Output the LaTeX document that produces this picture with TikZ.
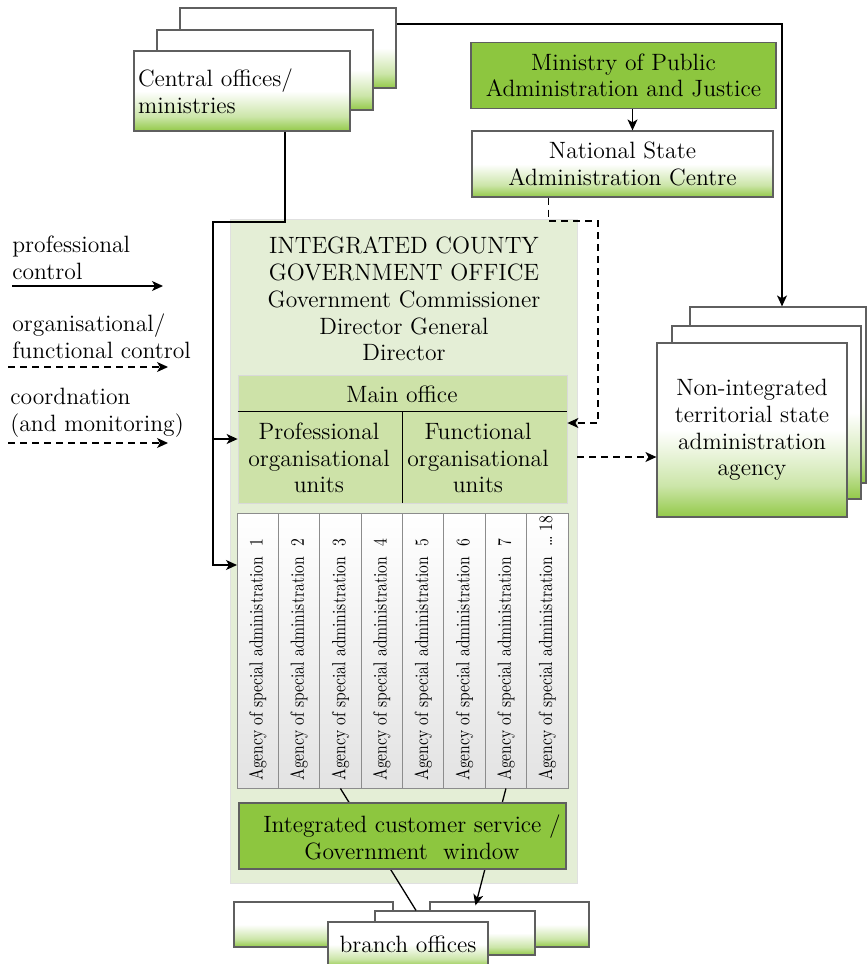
\documentclass[tikz,border=0pt]{standalone}
\usepackage{fontspec}
\usepackage{graphicx}
\usetikzlibrary{arrows.meta}

\definecolor{grn}{RGB}{141,198,63}
\definecolor{palegrn}{RGB}{228,238,214}
\definecolor{midgrn}{RGB}{205,226,168}
\definecolor{edge}{RGB}{95,95,95}
\colorlet{grnA}{grn!95}
\colorlet{grnB}{grn!45}
\colorlet{agrey}{black!11}
\pgfdeclareverticalshading{wgshade}{100bp}{color(0bp)=(grnA); color(25bp)=(grnA); color(34bp)=(grnB); color(50bp)=(white); color(100bp)=(white)}
\pgfdeclareverticalshading{agshade}{100bp}{color(0bp)=(agrey); color(25bp)=(agrey); color(75bp)=(white); color(100bp)=(white)}

\newcommand{\txtsize}{\fontsize{11.8}{13.4}\selectfont}

\begin{document}
\begin{tikzpicture}[x=0.5pt,y=-0.5pt,>={Stealth[length=5.5pt,width=5pt,inset=1.5pt]},
  wbox/.style={draw=edge,line width=0.6pt,shade,shading=wgshade,font=\txtsize,align=center,inner sep=0pt},
  gbox/.style={draw=edge,line width=0.6pt,fill=grn,font=\txtsize,align=center,inner sep=0pt},
  agbox/.style={draw=black!45,line width=0.5pt,shade,shading=agshade,minimum width=20.69pt,minimum height=137.5pt},
  agtxt/.style={rotate=90,anchor=west,inner sep=0pt,font=\fontsize{9.5}{11}\selectfont},
  txt/.style={font=\txtsize,align=center,inner sep=0pt},
  ltxt/.style={font=\txtsize,align=left,inner sep=0pt,anchor=west},
  conn/.style={line width=0.65pt},
  dsh/.style={line width=0.65pt,dash pattern=on 3.5pt off 2.5pt}]

  \useasboundingbox (0,0) rectangle (867,964);

  % central offices
  \node[wbox,minimum width=108pt,minimum height=40pt] (cent3) at (288,48) {};
  \node[wbox,minimum width=108pt,minimum height=40pt] (cent2) at (265,70) {};
  \node[wbox,minimum width=108pt,minimum height=40pt,text width=104pt,align=left] (cent1) at (242,91) {Central offices/\\ministries};

  \node[gbox,minimum width=152.5pt,minimum height=33pt] (mpaj) at (623.5,75.5) {Ministry of Public\\Administration and Justice};
  \node[wbox,minimum width=150.5pt,minimum height=33pt] (nsac) at (622.5,164) {National State\\Administration Centre};

  % non-integrated agencies
  \node[wbox,minimum width=88pt,minimum height=88pt] (ni3) at (778,395) {};
  \node[wbox,minimum width=94.5pt,minimum height=86.5pt] (ni2) at (766.5,412.5) {};
  \node[wbox,minimum width=95pt,minimum height=87pt] (ni1) at (752,430) {Non-integrated\\territorial state\\administration\\agency};

  % county office
  \node[draw=black!12,fill=palegrn,minimum width=173.5pt,minimum height=332pt] (icgo) at (403.5,551) {};
  \node[txt] (head) at (404,299) {INTEGRATED COUNTY\\GOVERNMENT OFFICE\\Government Commissioner\\Director General\\Director};
  \node[draw=black!15,fill=midgrn,minimum width=164.5pt,minimum height=64pt] (mainoff) at (402.5,439) {};
  \draw[line width=0.8pt] ([yshift=-18.5pt]mainoff.north west) -- ([yshift=-18.5pt]mainoff.north east);
  \draw[line width=0.8pt] ([yshift=-18.5pt]mainoff.north) -- (mainoff.south);
  \node[txt,anchor=base] (mo) at (402,402) {Main office};
  \node[txt] (prof) at (319,458) {Professional\\organisational\\units};
  \node[txt] (func) at (478,458) {Functional\\organisational\\units};

  \foreach \i/\n in {1/1,2/2,3/3,4/4,5/5,6/6,7/7,8/\ldots\ 18}{
    \node[agbox] (col\i) at ({237+41.375*(\i-0.5)},650.5) {};
    \node[agtxt] (agt\i) at ({237+41.375*(\i-0.5)},781) {\scalebox{0.82}[1]{Agency of special administration\ \ \n}};
  }

  % branch offices
  \node[wbox,minimum width=79.5pt,minimum height=22.5pt] (br1) at (313.5,924.5) {};
  \node[wbox,minimum width=79.5pt,minimum height=22.5pt] (br2) at (509.5,924.5) {};
  \node[wbox,minimum width=80pt,minimum height=22pt] (br3) at (455,933) {};
  \node[wbox,minimum width=80pt,minimum height=22.5pt] (br4) at (408,944.5) {branch offices};

  \draw[conn] (col3.south) -- ([xshift=-19.5pt]br3.north);
  \draw[conn,->] (col7.south) -- ([xshift=-17pt,yshift=-2pt]br2.north);

  \node[gbox,minimum width=163.5pt,minimum height=33pt] (ics) at (402.5,836) {};
  \node[txt] (icstxt) at (412,837) {Integrated customer service /\\Government\ \ window};

  % connectors
  \coordinate (bend) at (213,222);
  \coordinate (agin) at (237,565);
  \draw[conn,->] ([xshift=21.5pt]cent1.south) |- (bend) |- (agin);
  \draw[conn,->] (bend |- mainoff.west) -- (mainoff.west);
  \draw[conn,->] ([xshift=4.5pt]mpaj.south) -- ([xshift=5pt]nsac.north);
  \draw[conn,->] ([yshift=12pt]cent3.east) -| ([xshift=2pt]ni3.north);
  \coordinate (dcor) at (598,221);
  \draw[dsh,->] ([xshift=-37pt]nsac.south) |- (dcor) |- ([yshift=8pt]mainoff.east);
  \draw[dsh,->] ([xshift=5pt,yshift=-9pt]mainoff.east) -- ([yshift=-13.5pt]ni1.west);

  % legend
  \node[ltxt] (leg1) at (12,258) {professional\\control};
  \coordinate (l1a) at (12,286);
  \coordinate (l1b) at (163,286);
  \draw[conn,->] (l1a) -- (l1b);
  \node[ltxt] (leg2) at (12,336) {organisational/\\functional control};
  \coordinate (l2a) at (8,367);
  \coordinate (l2b) at (168,367);
  \draw[dsh,->] (l2a) -- (l2b);
  \node[ltxt] (leg3) at (10,413) {coordnation\\(and monitoring)};
  \coordinate (l3a) at (8,443);
  \coordinate (l3b) at (168,443);
  \draw[dsh,->] (l3a) -- (l3b);
\end{tikzpicture}
\end{document}
